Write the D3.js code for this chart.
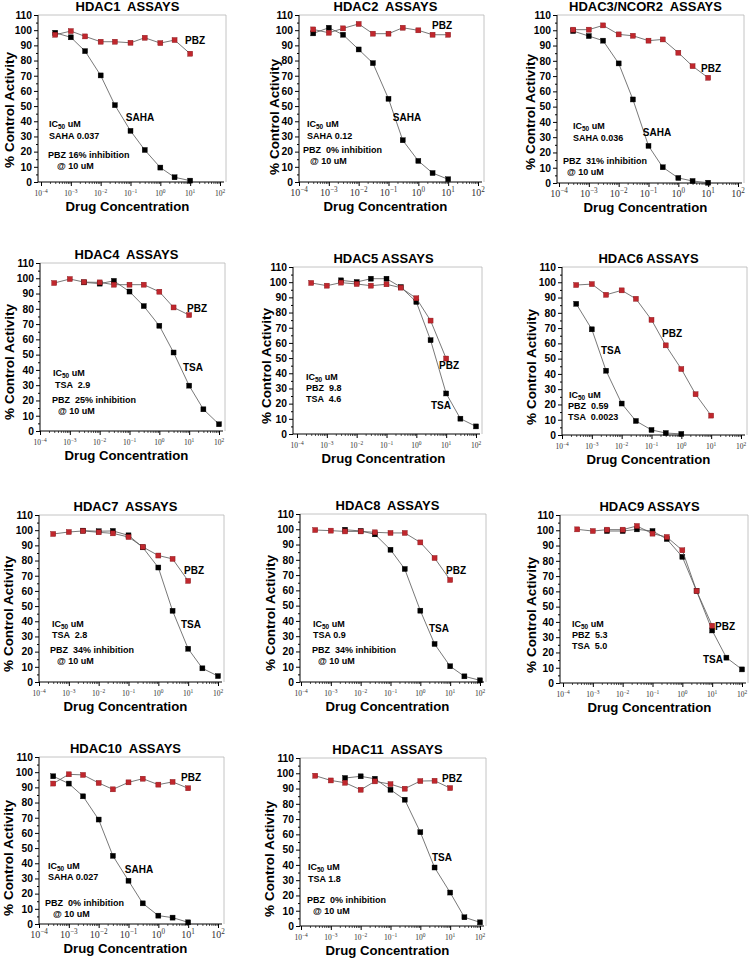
<!DOCTYPE html>
<html>
<head>
<meta charset="utf-8">
<script src="https://cdn.jsdelivr.net/npm/d3@7"></script>
<style>
  body { margin: 0; background: #fff; }
  svg text { font-family: "Liberation Sans", Arial, Helvetica, sans-serif; font-weight: bold; white-space: pre; }
  .xtick { font-family: "Liberation Serif", "Times New Roman", serif; font-weight: normal; fill: #333; }
</style>
</head>
<body>
<div id="chart"></div>
<script>
// drug concentrations (uM)
const concLow = [0.0003, 0.001, 0.003, 0.01, 0.03, 0.1, 0.3, 1, 3, 10];
const concHigh = [0.003, 0.01, 0.03, 0.1, 0.3, 1, 3, 10, 30, 100];
const concTsa6 = [0.0003, 0.001, 0.003, 0.01, 0.03, 0.1, 0.3, 1];
const xTickExps = [-4, -3, -2, -1, 0, 1, 2];
const yTicks = [0, 10, 20, 30, 40, 50, 60, 70, 80, 90, 100, 110];

// % control activity
const hdac1Saha = [98.3, 95.3, 86.2, 70.2, 50.6, 33.7, 21.1, 9.5, 3.1, 0.9];
const hdac1Pbz = [97.0, 99.4, 95.9, 92.4, 92.4, 91.7, 95.0, 91.5, 93.5, 84.5];
const hdac2Saha = [97.9, 101.6, 97.0, 87.3, 78.3, 54.8, 27.5, 13.9, 5.9, 1.8];
const hdac2Pbz = [100.5, 98.3, 101.2, 104.1, 97.7, 97.7, 101.6, 99.9, 97.0, 97.0];
const hdac3Saha = [99.5, 96.2, 93.2, 78.3, 54.7, 24.3, 10.3, 3.3, 1.3, 0.2];
const hdac3Pbz = [100.4, 100.4, 103.2, 97.3, 96.4, 93.2, 94.0, 85.3, 76.5, 68.9];
const hdac4Tsa = [97.3, 96.5, 98.3, 91.3, 81.8, 68.9, 51.4, 29.7, 14.2, 4.4];
const hdac4Pbz = [96.9, 99.5, 97.5, 97.3, 95.8, 95.8, 95.8, 91.2, 80.9, 75.9];
const hdac5Tsa = [101.2, 100.1, 102.3, 102.3, 96.8, 87.0, 61.8, 26.7, 10.1, 5.0];
const hdac5Pbz = [99.5, 97.7, 99.7, 98.8, 97.7, 98.6, 96.4, 89.4, 74.7, 49.7];
const hdac6Tsa = [85.9, 69.2, 42.1, 20.6, 9.2, 3.3, 1.3, 0.7];
const hdac6Pbz = [98.2, 98.8, 91.8, 94.7, 89.2, 75.4, 58.7, 43.2, 26.7, 12.7];
const hdac7Tsa = [99.7, 99.3, 99.5, 96.6, 88.7, 75.4, 46.9, 21.9, 9.0, 3.9];
const hdac7Pbz = [97.5, 98.8, 99.5, 98.6, 97.9, 95.5, 89.0, 83.3, 81.1, 66.6];
const hdac8Tsa = [99.7, 98.9, 96.7, 86.6, 74.0, 46.7, 24.9, 10.3, 3.7, 1.1];
const hdac8Pbz = [99.5, 99.1, 98.6, 98.6, 98.0, 97.6, 97.6, 91.4, 81.2, 66.8];
const hdac9Tsa = [99.5, 99.5, 100.6, 99.5, 94.3, 82.6, 60.3, 34.4, 16.6, 8.9];
const hdac9Pbz = [100.6, 99.5, 100.4, 100.4, 102.8, 97.8, 95.6, 86.9, 60.3, 37.5];
const hdac10Saha = [97.3, 92.5, 84.1, 68.8, 44.9, 28.5, 13.6, 5.5, 4.2, 1.1];
const hdac10Pbz = [92.5, 98.6, 98.2, 92.9, 88.7, 93.3, 95.7, 91.8, 93.6, 89.4];
const hdac11Tsa = [96.9, 98.0, 96.4, 89.2, 82.7, 61.4, 38.3, 21.9, 5.7, 2.4];
const hdac11Pbz = [98.4, 95.3, 93.8, 89.2, 94.7, 92.9, 89.9, 94.9, 95.1, 90.3];

const BLACK = "#000";
const RED = "#c0272d";

// panel layout: axisX = y axis line, x0 = position of 1e-4, y110/y0 = value lines
const panels = [
  {title: "HDAC1  ASSAYS", axisX: 38, x0: 41, y110: 15, y0: 182, tickFont: 7.5, ylab: [9, 110],
   series: [{conc: concLow, vals: hdac1Saha, color: BLACK}, {conc: concLow, vals: hdac1Pbz, color: RED}],
   labels: [["PBZ", 195, 40], ["SAHA", 140, 117]],
   notes: [["IC|50| uM", 49, 123], ["SAHA 0.037", 49, 135], ["PBZ 16% inhibition", 48, 154], ["@ 10 uM", 57, 165]]},
  {title: "HDAC2  ASSAYS", axisX: 299, x0: 299, y110: 15, y0: 182, tickFont: 10, ylab: [274, 117],
   series: [{conc: concLow, vals: hdac2Saha, color: BLACK}, {conc: concLow, vals: hdac2Pbz, color: RED}],
   labels: [["PBZ", 442, 25], ["SAHA", 407, 117]],
   notes: [["IC|50| uM", 307, 123], ["SAHA 0.12", 307, 135], ["PBZ  0% inhibition", 303, 149], ["@ 10 uM", 310, 160]]},
  {title: "HDAC3/NCOR2  ASSAYS", axisX: 557, x0: 559, y110: 15, y0: 183, tickFont: 10, ylab: [530, 112],
   series: [{conc: concLow, vals: hdac3Saha, color: BLACK}, {conc: concLow, vals: hdac3Pbz, color: RED}],
   labels: [["PBZ", 711, 68], ["SAHA", 657, 132]],
   notes: [["IC|50| uM", 573, 125], ["SAHA 0.036", 573, 137], ["PBZ  31% inhibition", 563, 160], ["@ 10 uM", 567, 171]]},
  {title: "HDAC4  ASSAYS", axisX: 40, x0: 40, y110: 263, y0: 431, tickFont: 7.5, ylab: [9, 362],
   series: [{conc: concHigh, vals: hdac4Tsa, color: BLACK}, {conc: concLow, vals: hdac4Pbz, color: RED}],
   labels: [["PBZ", 197, 308], ["TSA", 193, 367]],
   notes: [["IC|50| uM", 53, 372], ["TSA  2.9", 55, 384], ["PBZ  25% inhibition", 52, 399], ["@ 10 uM", 58, 410]]},
  {title: "HDAC5 ASSAYS", axisX: 293, x0: 297, y110: 267, y0: 434, tickFont: 7.5, ylab: [266, 366],
   series: [{conc: concHigh, vals: hdac5Tsa, color: BLACK}, {conc: concLow, vals: hdac5Pbz, color: RED}],
   labels: [["PBZ", 449, 365], ["TSA", 441, 405]],
   notes: [["IC|50| uM", 306, 376], ["PBZ  9.8", 306, 387], ["TSA  4.6", 306, 398]]},
  {title: "HDAC6 ASSAYS", axisX: 562, x0: 562, y110: 267, y0: 435, tickFont: 7.5, ylab: [531, 367],
   series: [{conc: concTsa6, vals: hdac6Tsa, color: BLACK}, {conc: concLow, vals: hdac6Pbz, color: RED}],
   labels: [["PBZ", 672, 333], ["TSA", 611, 350]],
   notes: [["IC|50| uM", 569, 394], ["PBZ  0.59", 568, 405], ["TSA  0.0023", 568, 416]]},
  {title: "HDAC7  ASSAYS", axisX: 39, x0: 39, y110: 515, y0: 682, tickFont: 7.5, ylab: [8, 614],
   series: [{conc: concHigh, vals: hdac7Tsa, color: BLACK}, {conc: concLow, vals: hdac7Pbz, color: RED}],
   labels: [["PBZ", 194, 570], ["TSA", 191, 624]],
   notes: [["IC|50| uM", 52, 623], ["TSA  2.8", 52, 634], ["PBZ  34% inhibition", 50, 649], ["@ 10 uM", 57, 660]]},
  {title: "HDAC8  ASSAYS", axisX: 300, x0: 301, y110: 514, y0: 682, tickFont: 7.5, ylab: [270, 613],
   series: [{conc: concHigh, vals: hdac8Tsa, color: BLACK}, {conc: concLow, vals: hdac8Pbz, color: RED}],
   labels: [["PBZ", 456, 570], ["TSA", 439, 628]],
   notes: [["IC|50| uM", 313, 623], ["TSA 0.9", 313, 634], ["PBZ  34% inhibition", 312, 649], ["@ 10 uM", 318, 660]]},
  {title: "HDAC9 ASSAYS", axisX: 560, x0: 563, y110: 515, y0: 683, tickFont: 7.5, ylab: [531, 615],
   series: [{conc: concHigh, vals: hdac9Tsa, color: BLACK}, {conc: concLow, vals: hdac9Pbz, color: RED}],
   labels: [["PBZ", 725, 626], ["TSA", 713, 659]],
   notes: [["IC|50| uM", 572, 623], ["PBZ  5.3", 572, 634], ["TSA  5.0", 572, 645]]},
  {title: "HDAC10  ASSAYS", axisX: 39, x0: 39, y110: 757, y0: 924, tickFont: 10, ylab: [8, 858],
   series: [{conc: concLow, vals: hdac10Saha, color: BLACK}, {conc: concLow, vals: hdac10Pbz, color: RED}],
   labels: [["PBZ", 191, 777], ["SAHA", 139, 869]],
   notes: [["IC|50| uM", 48, 865], ["SAHA 0.027", 48, 876], ["PBZ  0% inhibition", 45, 902], ["@ 10 uM", 53, 913]]},
  {title: "HDAC11  ASSAYS", axisX: 300, x0: 301, y110: 758, y0: 926, tickFont: 7.5, ylab: [269, 859],
   series: [{conc: concHigh, vals: hdac11Tsa, color: BLACK}, {conc: concLow, vals: hdac11Pbz, color: RED}],
   labels: [["PBZ", 452, 778], ["TSA", 442, 857]],
   notes: [["IC|50| uM", 308, 866], ["TSA 1.8", 308, 878], ["PBZ  0% inhibition", 307, 899], ["@ 10 uM", 313, 910]]}
];

const svg = d3.select("#chart")
  .append("svg")
  .attr("width", 751)
  .attr("height", 959);

panels.forEach(function(p) {
  const x1 = p.x0 + 179;
  const right = x1 + 6;
  const x = d3.scaleLog().domain([1e-4, 1e2]).range([p.x0, x1]);
  const y = d3.scaleLinear().domain([0, 110]).range([p.y0, p.y110]);
  const g = svg.append("g");

  // light frame on top and right
  g.append("path")
    .attr("d", `M${p.axisX},${p.y110}H${right}V${p.y0}`)
    .attr("fill", "none")
    .attr("stroke", "#b5b5b5")
    .attr("stroke-width", 0.8);

  // y axis, majors + minors
  g.append("g")
    .attr("transform", `translate(${p.axisX},0)`)
    .call(d3.axisLeft(y).tickValues(d3.range(5, 110, 10)).tickSize(2).tickSizeOuter(0).tickFormat(""))
    .call(a => a.select(".domain").remove());
  g.append("g")
    .attr("transform", `translate(${p.axisX},0)`)
    .call(d3.axisLeft(y).tickValues(yTicks).tickSize(4).tickSizeOuter(0).tickPadding(2))
    .call(a => a.select(".domain").attr("d", `M0,${p.y0}V${p.y110}`))
    .call(a => a.selectAll("text").style("font-size", "10.3px").attr("fill", "#000"));

  // x axis, decades + minors
  const minor = [];
  for (let e = -4; e < 2; e++) for (let m = 2; m < 10; m++) minor.push(m * Math.pow(10, e));
  g.append("g")
    .attr("transform", `translate(0,${p.y0})`)
    .call(d3.axisBottom(x).tickValues(minor).tickSize(2).tickSizeOuter(0).tickFormat(""))
    .call(a => a.select(".domain").remove())
    .call(a => a.selectAll("line").attr("stroke", "#555"));
  g.append("g")
    .attr("transform", `translate(0,${p.y0})`)
    .call(d3.axisBottom(x).tickValues(xTickExps.map(e => Math.pow(10, e))).tickSize(4).tickSizeOuter(0).tickFormat(""))
    .call(a => a.select(".domain").attr("d", `M${p.axisX},0H${right - 2}`));

  g.selectAll(".xtick")
    .data(xTickExps)
    .enter()
    .append("text")
      .attr("class", "xtick")
      .attr("x", function(d) { return x(Math.pow(10, d)); })
      .attr("y", p.y0 + 14)
      .attr("text-anchor", "middle")
      .style("font-size", p.tickFont + "px")
      .each(function(d) {
        const t = d3.select(this);
        t.append("tspan").text("10");
        t.append("tspan").attr("dy", -p.tickFont * 0.45).style("font-size", (p.tickFont * 0.72) + "px")
          .text(d < 0 ? "\u2212" + (-d) : String(d));
      });

  // axis titles
  const cx = (p.x0 + x1) / 2 - 3;
  g.append("text")
    .attr("x", cx)
    .attr("y", p.y0 + 29)
    .attr("text-anchor", "middle")
    .style("font-size", "13.2px")
    .text("Drug Concentration");
  g.append("text")
    .attr("transform", `translate(${p.ylab[0] + 5},${p.ylab[1]}) rotate(-90)`)
    .attr("text-anchor", "middle")
    .style("font-size", "13.5px")
    .text("% Control Activity");
  g.append("text")
    .attr("x", cx)
    .attr("y", p.y110 - 4)
    .attr("text-anchor", "middle")
    .style("font-size", "13px")
    .text(p.title);

  // curves
  const line = d3.line()
    .x(function(d) { return x(d[0]); })
    .y(function(d) { return y(d[1]); });
  p.series.forEach(function(s) {
    const pts = s.conc.map(function(c, i) { return [c, s.vals[i]]; });
    g.append("path")
      .attr("d", line(pts))
      .attr("fill", "none")
      .attr("stroke", "#555")
      .attr("stroke-width", 0.8);
    g.selectAll(null)
      .data(pts)
      .enter()
      .append("rect")
        .attr("x", function(d) { return x(d[0]) - 2.5; })
        .attr("y", function(d) { return y(d[1]) - 2.5; })
        .attr("width", 5)
        .attr("height", 5)
        .attr("fill", s.color)
        .attr("stroke", s.color === RED ? "#801015" : "#000")
        .attr("stroke-width", 0.4);
  });

  // curve labels
  g.selectAll(null)
    .data(p.labels)
    .enter()
    .append("text")
      .attr("x", function(d) { return d[1]; })
      .attr("y", function(d) { return d[2] + 3.5; })
      .attr("text-anchor", "middle")
      .style("font-size", "10px")
      .text(function(d) { return d[0]; });

  // IC50 notes
  g.selectAll(null)
    .data(p.notes)
    .enter()
    .append("text")
      .attr("x", function(d) { return d[1]; })
      .attr("y", function(d) { return d[2] + 3.5; })
      .style("font-size", "9px")
      .each(function(d) {
        const parts = d[0].split("|");
        const t = d3.select(this);
        if (parts.length === 1) { t.text(d[0]); return; }
        t.append("tspan").text(parts[0]);
        t.append("tspan").attr("dy", 2).style("font-size", "6.5px").text(parts[1]);
        t.append("tspan").attr("dy", -2).text(parts[2]);
      });
});
</script>
</body>
</html>
